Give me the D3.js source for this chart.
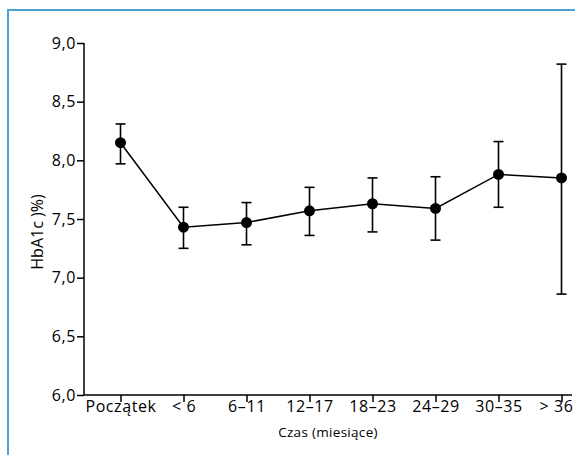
<!DOCTYPE html>
<html><head><meta charset="utf-8">
<script src="https://cdn.jsdelivr.net/npm/d3@7"></script>
<style>
html,body{margin:0;padding:0;background:#fff;}
svg{display:block;}
</style></head>
<body>
<script>
const categories = ["Początek", "< 6", "6–11", "12–17", "18–23", "24–29", "30–35", "> 36"];
const means = [8.15, 7.43, 7.47, 7.57, 7.63, 7.59, 7.88, 7.85];
const upper = [8.31, 7.60, 7.64, 7.77, 7.85, 7.86, 8.16, 8.82];
const lower = [7.97, 7.25, 7.28, 7.36, 7.39, 7.32, 7.60, 6.86];
const yTicks = [6.0, 6.5, 7.0, 7.5, 8.0, 8.5, 9.0];

const W = 575, H = 455;
const svg = d3.select("body").append("svg").attr("width", W).attr("height", H);
const font = "'Open Sans', sans-serif";

// frame
svg.append("path").attr("d", "M8,455 V10 H575").attr("fill", "none")
  .attr("stroke", "#4aa3d4").attr("stroke-width", 2);

const x0 = 84, x1 = 572, yTop = 43, yBot = 395;
const x = d3.scalePoint().domain(categories).range([120.5, 561.5]);
const y = d3.scaleLinear().domain([6, 9]).range([yBot, yTop]);

// y axis
const yAxis = svg.append("g").attr("transform", `translate(${x0},0)`)
  .call(d3.axisLeft(y).tickValues(yTicks).tickSize(7).tickPadding(1)
    .tickFormat(d => d3.format(".1f")(d).replace(".", ",")));
yAxis.select(".domain").attr("d", `M0,${yTop}V${yBot}`);
// x axis
const xAxis = svg.append("g").attr("transform", `translate(0,${yBot})`)
  .call(d3.axisBottom(x).tickSize(7).tickPadding(-1.5));
xAxis.select(".domain").attr("d", `M${x0},0H${x1}`);

svg.selectAll(".domain, .tick line").attr("stroke", "#000").attr("stroke-width", 1.5);
yAxis.selectAll("text").attr("font-family", font).attr("font-size", 16)
  .attr("letter-spacing", 0.6).attr("fill", "#000");
xAxis.selectAll("text").attr("font-family", font).attr("font-size", 16)
  .attr("letter-spacing", 0.6).attr("fill", "#000");
// last label kept inside the frame
xAxis.selectAll(".tick").filter(d => d === categories[categories.length - 1]).select("text")
  .attr("text-anchor", "end").attr("x", 573 - x(categories[categories.length - 1]));

// titles
svg.append("text").attr("x", (x0 + x1) / 2).attr("y", 437).attr("text-anchor", "middle")
  .attr("font-family", font).attr("font-size", 13.5).attr("letter-spacing", 0.3)
  .attr("fill", "#000").text("Czas (miesiące)");
svg.append("text").attr("transform", "translate(43,232) rotate(-90)").attr("text-anchor", "middle")
  .attr("font-family", font).attr("font-size", 16).attr("fill", "#000").text("HbA1c )%)");

// error bars
const g = svg.append("g");
categories.forEach((c, i) => {
  const cx = x(c);
  g.append("line").attr("x1", cx).attr("x2", cx).attr("y1", y(lower[i])).attr("y2", y(upper[i]))
    .attr("stroke", "#000").attr("stroke-width", 1.6);
  [lower[i], upper[i]].forEach(v => g.append("line").attr("x1", cx - 5).attr("x2", cx + 5)
    .attr("y1", y(v)).attr("y2", y(v)).attr("stroke", "#000").attr("stroke-width", 1.6));
});
// line
g.append("path").datum(means)
  .attr("d", d3.line().x((d, i) => x(categories[i])).y(d => y(d)))
  .attr("fill", "none").attr("stroke", "#000").attr("stroke-width", 1.5);
g.selectAll("circle").data(means).join("circle")
  .attr("cx", (d, i) => x(categories[i])).attr("cy", d => y(d)).attr("r", 5.5).attr("fill", "#000");
</script>
</body></html>
